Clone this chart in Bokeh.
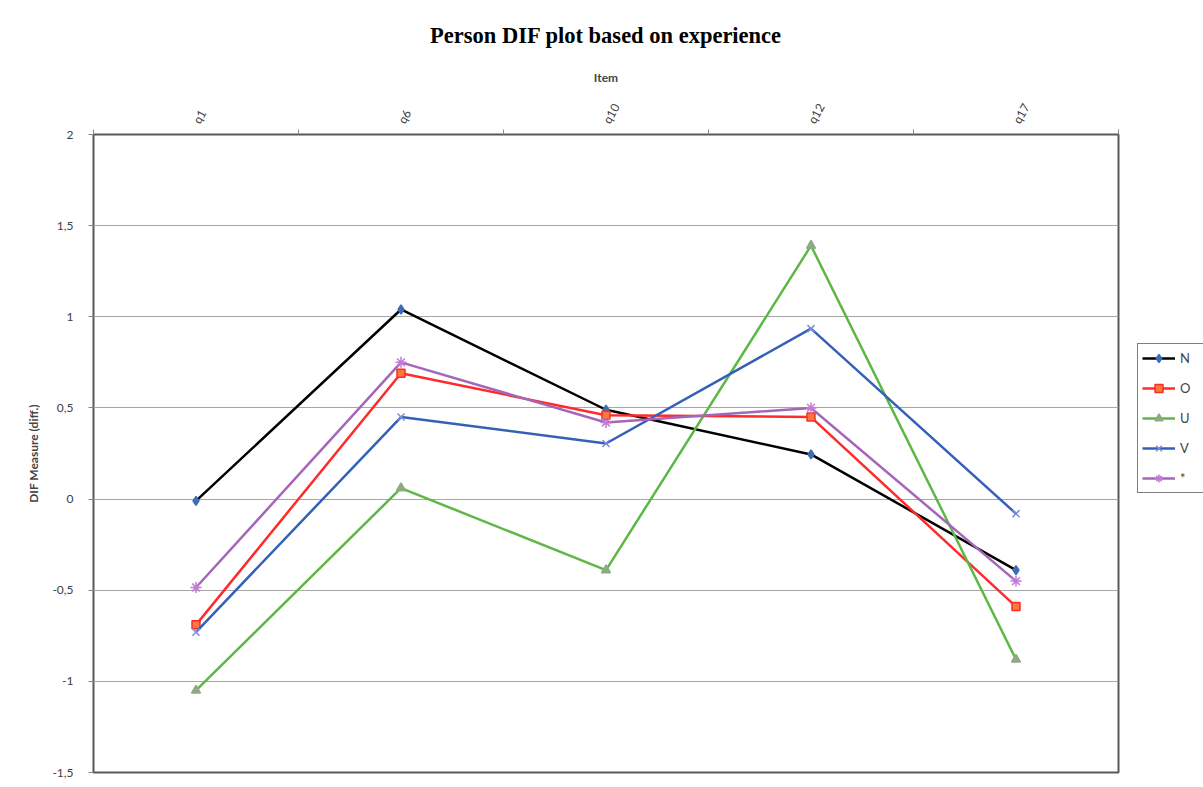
from bokeh.plotting import figure
from bokeh.models import (Range1d, FixedTicker, CustomJSTickFormatter, Legend, LegendItem)
from bokeh.embed import file_html
from bokeh.resources import INLINE

items = ["q1", "q6", "q10", "q12", "q17"]
series_names = ["N", "O", "U", "V", "*"]
N_vals = [-0.01, 1.04, 0.49, 0.245, -0.39]
O_vals = [-0.69, 0.69, 0.46, 0.45, -0.59]
U_vals = [-1.05, 0.06, -0.39, 1.39, -0.88]
V_vals = [-0.73, 0.45, 0.305, 0.935, -0.08]
S_vals = [-0.485, 0.75, 0.42, 0.50, -0.45]
y_ticks = [-1.5, -1, -0.5, 0, 0.5, 1, 1.5, 2]

x = [i + 0.5 for i in range(len(items))]

p = figure(frame_width=1025, frame_height=638,
           x_range=Range1d(0, len(items)), y_range=Range1d(-1.5, 2),
           x_axis_location="above", toolbar_location=None,
           output_backend="svg",
           min_border_left=93, min_border_top=133, min_border_right=80,
           min_border_bottom=8)
p.background_fill_color = "white"
p.border_fill_color = "white"
p.outline_line_color = "#595959"
p.outline_line_width = 2

# title
p.title.text = "Person DIF plot based on experience"
p.title.text_font = "Liberation Serif"
p.title.text_font_size = "22.5px"
p.title.text_font_style = "bold"
p.title.align = "center"
p.title.text_color = "black"
p.title.standoff = 40

# x axis (top)
xa = p.xaxis[0]
xa.ticker = FixedTicker(ticks=x, minor_ticks=list(range(len(items) + 1)))
xa.major_label_overrides = {xi: lab for xi, lab in zip(x, items)}
xa.major_label_orientation = 1.05
xa.major_tick_line_color = None
xa.minor_tick_in = 0
xa.minor_tick_out = 5
xa.minor_tick_line_color = "#868686"
xa.axis_line_color = None
xa.major_label_text_font = "Lato"
xa.major_label_text_font_size = "12px"
xa.major_label_text_color = "#404040"
xa.major_label_standoff = 6
xa.axis_label = "Item"
xa.axis_label_text_font = "Lato"
xa.axis_label_text_font_size = "12px"
xa.axis_label_text_font_style = "bold"
xa.axis_label_standoff = 9

# y axis
ya = p.yaxis[0]
ya.ticker = FixedTicker(ticks=y_ticks)
ya.formatter = CustomJSTickFormatter(code="return tick.toString().replace('.', ',');")
ya.major_tick_in = 0
ya.major_tick_out = 5
ya.major_tick_line_color = "#868686"
ya.minor_tick_line_color = None
ya.axis_line_color = None
ya.major_label_text_font = "Lato"
ya.major_label_text_font_size = "12px"
ya.major_label_text_color = "#404040"
ya.major_label_standoff = 15
ya.axis_label = "DIF Measure (diff.)"
ya.axis_label_text_font = "Lato"
ya.axis_label_text_font_size = "12px"
ya.axis_label_text_font_style = "bold"
ya.axis_label_standoff = 8

p.xgrid.visible = False
p.ygrid.ticker = FixedTicker(ticks=y_ticks)
p.ygrid.grid_line_color = "#a6a6a6"
p.ygrid.grid_line_width = 1

styles = [
    (N_vals, "#000000", "diamond", "#3d6db5", "#3d6db5", 9),
    (O_vals, "#ff2b2b", "square", "#f47b3a", "#ff2b2b", 8),
    (U_vals, "#5cb845", "triangle", "#8faa80", "#8faa80", 9),
    (V_vals, "#3560b8", "x", "#7b8fd6", "#7b8fd6", 10),
    (S_vals, "#a566b8", "asterisk", "#c27ad6", "#c27ad6", 11),
]

legend_items = []
for name, (vals, lc, mk, fc, mlc, sz) in zip(series_names, styles):
    r1 = p.line(x, vals, line_color=lc, line_width=2.5)
    r2 = p.scatter(x, vals, marker=mk, size=sz, fill_color=fc, line_color=mlc, line_width=1.5)
    legend_items.append(LegendItem(label=name, renderers=[r1, r2]))

legend = Legend(items=legend_items, location=(19, 279))
legend.border_line_color = "black"
legend.border_line_width = 1.5
legend.label_text_font = "Lato"
legend.label_text_font_size = "13px"
legend.glyph_width = 33
legend.glyph_height = 20
legend.spacing = 10
legend.padding = 4
legend.margin = 0
legend.label_standoff = 5
legend.background_fill_alpha = 1
p.add_layout(legend, "right")

open("out.html", "w").write(file_html(p, INLINE))
